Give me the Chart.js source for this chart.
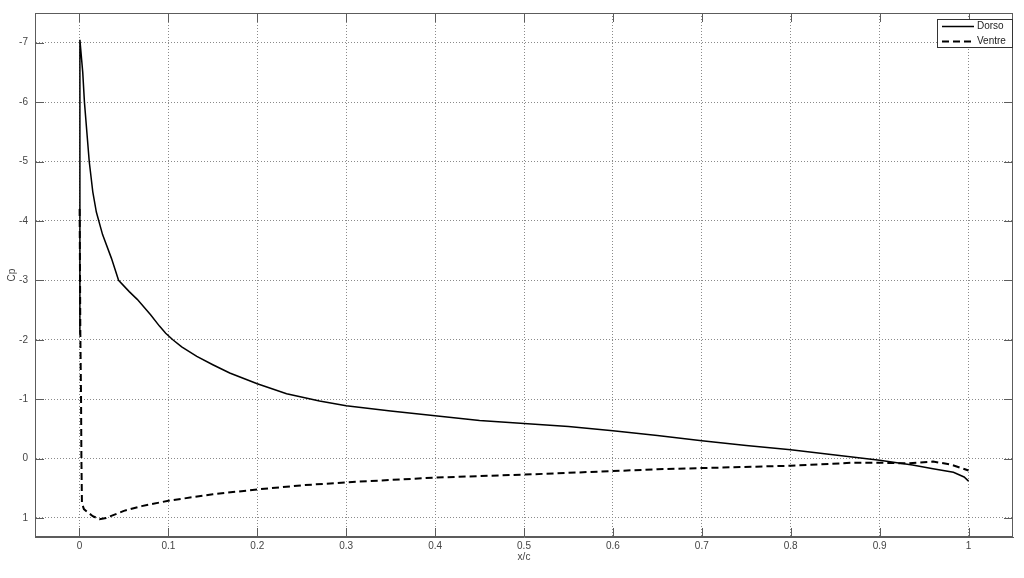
<!DOCTYPE html>
<html lang="it">
<head>
    <meta charset="UTF-8">
    <title>Cp - Dorso / Ventre</title>
    <script src="https://cdn.jsdelivr.net/npm/chart.js"></script>
    <style>
        body {
            margin: 0;
            padding: 0;
            background-color: #fff;
        }

        .chart-container {
            width: 1024px;
            height: 578px;
        }
    </style>
</head>
<body>
    <div class="chart-container">
        <canvas id="cpChart"></canvas>
    </div>

    <script>
        // Dorso (upper surface)
        const dorsoX = [0, 0.0005, 0.0037, 0.0056, 0.011, 0.015, 0.019, 0.026, 0.036, 0.044,
            0.056, 0.065, 0.08, 0.09, 0.097, 0.105, 0.115, 0.132, 0.15, 0.169, 0.2,
            0.233, 0.27, 0.3, 0.35, 0.4, 0.45, 0.5, 0.55, 0.6, 0.65,
            0.7, 0.75, 0.8, 0.85, 0.9, 0.937, 0.96, 0.983, 0.995, 1.0];
        const dorsoCp = [-2.1, -7.05, -6.5, -6.0, -5.0, -4.49, -4.15, -3.77, -3.37, -3.0,
            -2.81, -2.68, -2.42, -2.23, -2.11, -2.0, -1.88, -1.72, -1.58, -1.44, -1.26,
            -1.09, -0.97, -0.89, -0.80, -0.72, -0.64, -0.59, -0.54, -0.47, -0.39,
            -0.30, -0.22, -0.15, -0.06, 0.03, 0.11, 0.17, 0.23, 0.31, 0.38];

        // Ventre (lower surface)
        const ventreX = [0.0002, 0.001, 0.0018, 0.0022, 0.0028, 0.005, 0.009, 0.015, 0.0225, 0.03,
            0.05, 0.07, 0.1, 0.15, 0.2, 0.25, 0.3, 0.35, 0.4, 0.5,
            0.6, 0.65, 0.7, 0.8, 0.83, 0.87, 0.9, 0.93, 0.96, 0.98, 1.0];
        const ventreCp = [-4.2, -2.1, -1.0, 0.0, 0.75, 0.85, 0.9, 0.97, 1.02, 1.0,
            0.88, 0.8, 0.71, 0.6, 0.52, 0.45, 0.40, 0.36, 0.32, 0.27,
            0.21, 0.18, 0.16, 0.12, 0.1, 0.07, 0.07, 0.08, 0.05, 0.1, 0.2];

        const xTicks = [0, 0.1, 0.2, 0.3, 0.4, 0.5, 0.6, 0.7, 0.8, 0.9, 1];
        const yTicks = [-7, -6, -5, -4, -3, -2, -1, 0, 1];

        const axisFont = { family: 'Liberation Sans, Arial, sans-serif', size: 10 };

        function toPoints(xs, ys) {
            return xs.map((x, i) => ({ x: x, y: ys[i] }));
        }

        // box around the axes, inner ticks and legend like matlab
        const matlabAxes = {
            id: 'matlabAxes',
            afterDraw(chart) {
                const { ctx, chartArea: a, scales } = chart;
                const len = 9;
                ctx.save();
                ctx.strokeStyle = '#5c5c5c';
                ctx.lineWidth = 1;
                ctx.strokeRect(a.left + 0.5, a.top + 0.5, a.right - a.left - 1, a.bottom - a.top - 1);
                ctx.beginPath();
                xTicks.forEach(v => {
                    const px = Math.round(scales.x.getPixelForValue(v)) + 0.5;
                    ctx.moveTo(px, a.bottom); ctx.lineTo(px, a.bottom - len);
                    ctx.moveTo(px, a.top); ctx.lineTo(px, a.top + len);
                });
                yTicks.forEach(v => {
                    const py = Math.round(scales.y.getPixelForValue(v)) + 0.5;
                    ctx.moveTo(a.left, py); ctx.lineTo(a.left + len, py);
                    ctx.moveTo(a.right, py); ctx.lineTo(a.right - len, py);
                });
                ctx.stroke();

                // legend
                const w = 76, h = 29;
                const bx = a.right - w, by = a.top + 6;
                ctx.fillStyle = '#fff';
                ctx.fillRect(bx, by, w, h);
                ctx.strokeStyle = '#333';
                ctx.strokeRect(bx + 0.5, by + 0.5, w - 1, h - 1);
                ctx.font = '10px Liberation Sans, Arial, sans-serif';
                ctx.textBaseline = 'middle';
                chart.data.datasets.forEach((ds, i) => {
                    const ly = by + 7.5 + i * 15;
                    ctx.strokeStyle = '#000';
                    ctx.lineWidth = ds.borderWidth;
                    ctx.setLineDash(ds.borderDash || []);
                    ctx.beginPath();
                    ctx.moveTo(bx + 5, ly);
                    ctx.lineTo(bx + 37, ly);
                    ctx.stroke();
                    ctx.setLineDash([]);
                    ctx.fillStyle = '#222';
                    ctx.fillText(ds.label, bx + 40, ly);
                });
                ctx.restore();
            }
        };

        const ctx = document.getElementById('cpChart').getContext('2d');
        const chart = new Chart(ctx, {
            type: 'scatter',
            data: {
                datasets: [{
                    label: 'Dorso',
                    data: toPoints(dorsoX, dorsoCp),
                    showLine: true,
                    borderColor: '#000',
                    borderWidth: 1.5,
                    pointRadius: 0,
                    tension: 0
                }, {
                    label: 'Ventre',
                    data: toPoints(ventreX, ventreCp),
                    showLine: true,
                    borderColor: '#000',
                    borderWidth: 2,
                    borderDash: [7, 4],
                    pointRadius: 0,
                    tension: 0
                }]
            },
            options: {
                responsive: true,
                maintainAspectRatio: false,
                animation: false,
                layout: {
                    padding: { top: 11, right: 11, left: 0, bottom: 0 }
                },
                plugins: {
                    legend: { display: false },
                    tooltip: { enabled: false }
                },
                scales: {
                    x: {
                        type: 'linear',
                        min: -0.05,
                        max: 1.05,
                        afterBuildTicks: scale => {
                            scale.ticks = xTicks.map(v => ({ value: v }));
                        },
                        afterFit: scale => { scale.height = 41; },
                        ticks: {
                            font: axisFont,
                            color: '#444',
                            padding: 3,
                            maxRotation: 0,
                            callback: v => String(v)
                        },
                        grid: { color: '#8a8a8a', drawTicks: false },
                        border: { display: true, color: '#5c5c5c', dash: [1, 2] },
                        title: {
                            display: true,
                            text: 'x/c',
                            font: axisFont,
                            color: '#444',
                            padding: { top: 0, bottom: 15 }
                        }
                    },
                    y: {
                        type: 'linear',
                        reverse: true,
                        min: -7.5,
                        max: 1.32,
                        afterBuildTicks: scale => {
                            scale.ticks = yTicks.map(v => ({ value: v }));
                        },
                        afterFit: scale => { scale.width = 35; },
                        ticks: {
                            font: axisFont,
                            color: '#444',
                            padding: 7,
                            callback: v => String(v)
                        },
                        grid: { color: '#8a8a8a', drawTicks: false },
                        border: { display: true, color: '#5c5c5c', dash: [1, 2] },
                        title: {
                            display: true,
                            text: 'Cp',
                            font: axisFont,
                            color: '#444',
                            padding: { top: 6, bottom: 0 }
                        }
                    }
                }
            },
            plugins: [matlabAxes]
        });
    </script>
</body>
</html>
